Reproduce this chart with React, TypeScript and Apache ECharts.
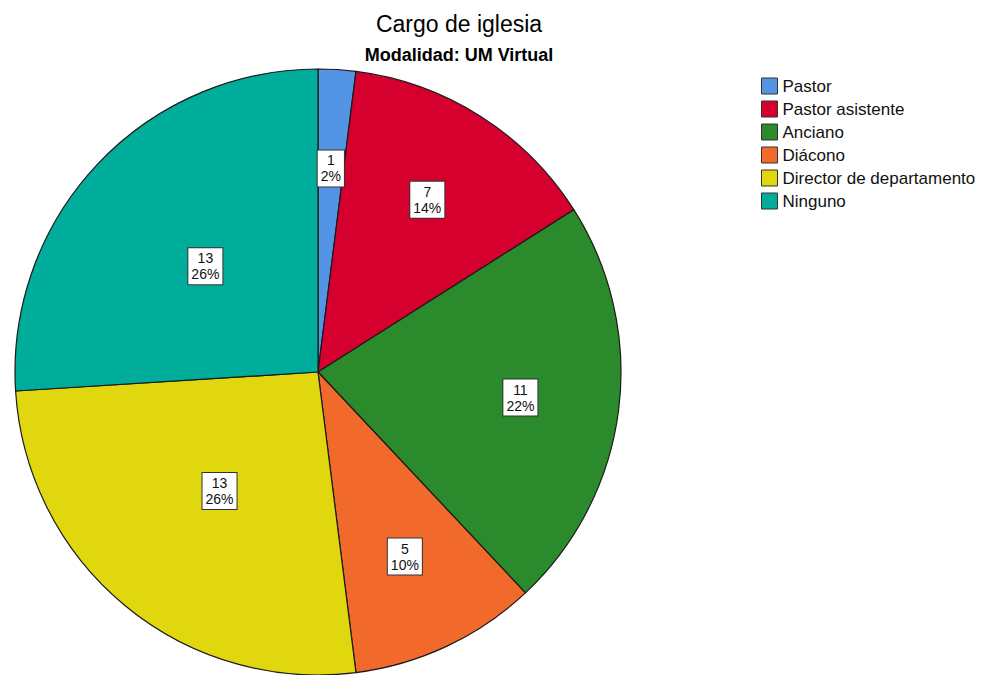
import React, { useEffect, useRef } from "react";
import * as echarts from "echarts";

const TITLE = "Cargo de iglesia";
const SUBTITLE = "Modalidad: UM Virtual";
const categories = [
  "Pastor",
  "Pastor asistente",
  "Anciano",
  "Diácono",
  "Director de departamento",
  "Ninguno",
];
const counts = [1, 7, 11, 5, 13, 13];
const colors = ["#5394e4", "#d6002e", "#2b8a2b", "#f26a2b", "#e0d70e", "#00ac9a"];

const FONT = '"Liberation Sans", Arial, sans-serif';

export default function App() {
  const ref = useRef<HTMLDivElement>(null);
  useEffect(() => {
    document.body.style.margin = "0";
    if (!ref.current) return;
    const chart = echarts.init(ref.current, undefined, { renderer: "svg" });
    const total = counts.reduce((a, b) => a + b, 0);
    const labelStyle = {
      show: true,
      position: "inside",
      formatter: (p: any) => `${p.value}\n${Math.round((p.value / total) * 100)}%`,
      fontFamily: FONT,
      fontSize: 14,
      lineHeight: 16,
      color: "#111",
      backgroundColor: "#ffffff",
      borderColor: "#333",
      borderWidth: 1,
      padding: [2, 3, 2, 3],
      align: "center",
    };
    const big = (v: number) => v / total >= 0.25;
    chart.setOption({
      animation: false,
      backgroundColor: "#ffffff",
      legend: {
        orient: "vertical",
        left: 756,
        top: 72,
        itemWidth: 16,
        itemHeight: 16,
        itemGap: 5,
        icon: "rect",
        data: categories,
        selectedMode: false,
        itemStyle: { borderColor: "#333", borderWidth: 1 },
        textStyle: { fontFamily: FONT, fontSize: 17, lineHeight: 18, color: "#111" },
      },
      graphic: [
        {
          type: "text",
          x: 459,
          y: 24,
          style: {
            text: TITLE,
            font: `normal 23px ${FONT}`,
            fill: "#000",
            align: "center",
            verticalAlign: "middle",
          },
        },
        {
          type: "text",
          x: 459,
          y: 55,
          style: {
            text: SUBTITLE,
            font: `bold 18px ${FONT}`,
            fill: "#000",
            align: "center",
            verticalAlign: "middle",
          },
        },
      ],
      series: [
        {
          type: "pie",
          center: [318, 372],
          radius: [0, 303],
          startAngle: 90,
          clockwise: true,
          silent: true,
          emphasis: { disabled: true },
          labelLine: { show: false },
          itemStyle: { borderColor: "#1a1a1a", borderWidth: 1.2 },
          data: categories.map((name, i) => ({
            name,
            value: counts[i],
            itemStyle: { color: colors[i] },
            label: big(counts[i]) ? labelStyle : { show: false },
          })),
        },
        {
          type: "pie",
          center: [318, 372],
          radius: [99, 303],
          startAngle: 90,
          clockwise: true,
          silent: true,
          legendHoverLink: false,
          emphasis: { disabled: true },
          labelLine: { show: false },
          itemStyle: { color: "rgba(0,0,0,0)", borderWidth: 0 },
          data: categories.map((name, i) => ({
            name,
            value: counts[i],
            label: big(counts[i]) ? { show: false } : labelStyle,
          })),
        },
      ],
    });
    return () => chart.dispose();
  }, []);
  return <div ref={ref} style={{ width: 985, height: 675 }} />;
}
